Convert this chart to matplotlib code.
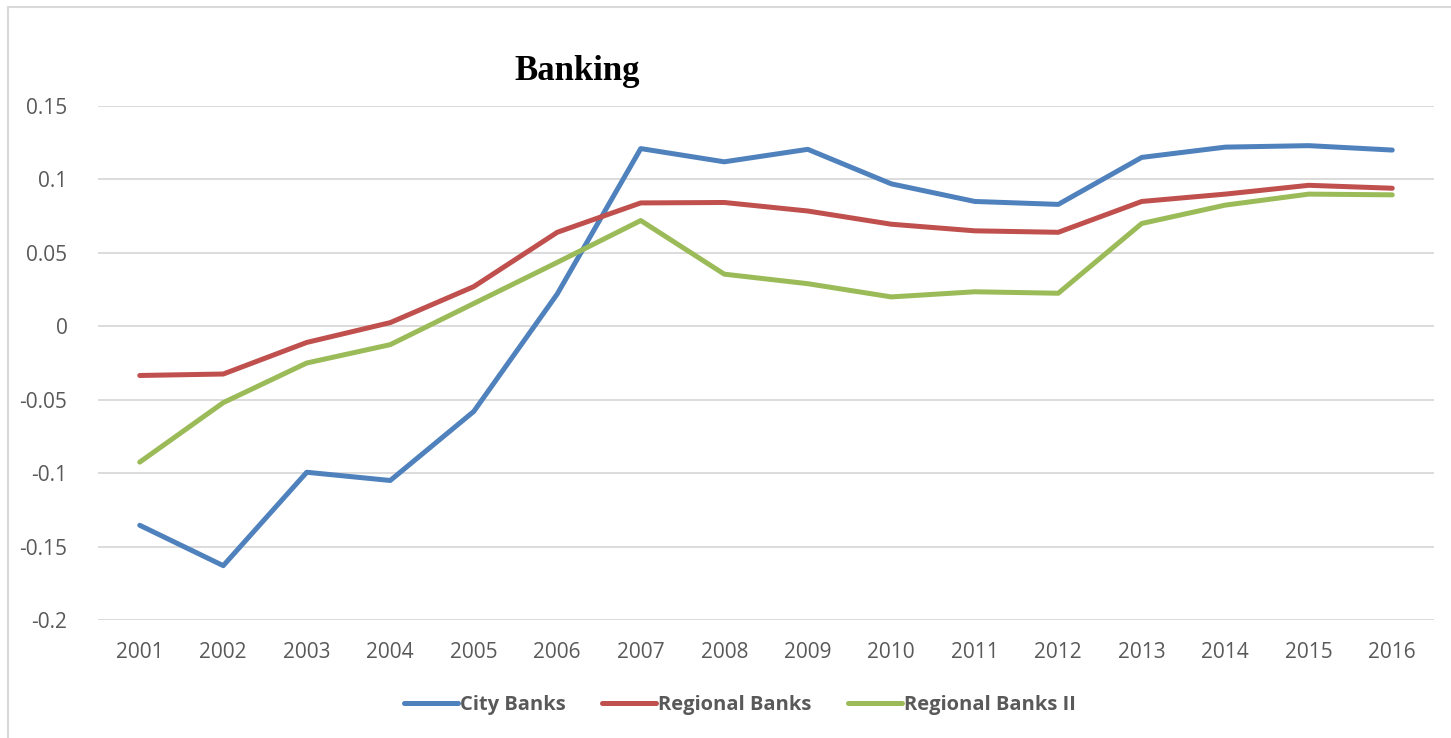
import matplotlib
matplotlib.use("Agg")
import matplotlib.pyplot as plt
from matplotlib.patches import Rectangle
from matplotlib.lines import Line2D

years = ["2001", "2002", "2003", "2004", "2005", "2006", "2007", "2008",
         "2009", "2010", "2011", "2012", "2013", "2014", "2015", "2016"]
city_banks = [-0.1355, -0.163, -0.0994, -0.105, -0.058, 0.022, 0.121, 0.112,
              0.1205, 0.097, 0.085, 0.083, 0.115, 0.122, 0.123, 0.120]
regional_banks = [-0.0335, -0.0325, -0.011, 0.0025, 0.027, 0.064, 0.084, 0.0843,
                  0.0785, 0.0695, 0.065, 0.064, 0.085, 0.090, 0.096, 0.094]
regional_banks_2 = [-0.0925, -0.052, -0.025, -0.0125, 0.0155, 0.0435, 0.072, 0.0355,
                    0.029, 0.020, 0.0235, 0.0225, 0.070, 0.0825, 0.090, 0.0895]
yticks = [-0.2, -0.15, -0.1, -0.05, 0, 0.05, 0.1, 0.15]
ytick_labels = ["-0.2", "-0.15", "-0.1", "-0.05", "0", "0.05", "0.1", "0.15"]

W, H = 1451, 738
fig = plt.figure(figsize=(W / 100, H / 100), dpi=100)
fig.patch.set_facecolor("white")

# outer chart border
fig.add_artist(Rectangle((8 / W, 0 - 0.05), 1.2, 1 - 7 / H + 0.05, transform=fig.transFigure,
                         fill=False, edgecolor="#d9d9d9", linewidth=1.5))

ax = fig.add_axes([98 / W, 1 - 620 / H, (1434 - 98) / W, (620 - 106) / H])
x = list(range(len(years)))
text_color = "#595959"
font = "Open Sans"

ax.plot(x, city_banks, color="#4F81BD", lw=3.6, solid_capstyle="round", solid_joinstyle="round", zorder=3)
ax.plot(x, regional_banks, color="#C0504D", lw=3.6, solid_capstyle="round", solid_joinstyle="round", zorder=3)
ax.plot(x, regional_banks_2, color="#9BBB59", lw=3.6, solid_capstyle="round", solid_joinstyle="round", zorder=3)

ax.set_xlim(-0.5, len(years) - 0.5)
ax.set_ylim(-0.2, 0.15)
ax.set_yticks(yticks)
ax.set_yticklabels(ytick_labels, fontsize=15, color=text_color, family=font)
ax.set_xticks(x)
ax.set_xticklabels(years, fontsize=15, color=text_color, family=font)
ax.tick_params(axis="both", length=0)
ax.tick_params(axis="y", pad=22)
ax.tick_params(axis="x", pad=16)
ax.grid(axis="y", color="#d9d9d9", lw=1.3)
ax.set_axisbelow(True)
for s in ax.spines.values():
    s.set_visible(False)

fig.text(577 / W, 1 - 71 / H, "Banking", ha="center", va="center",
         fontsize=25, fontweight="bold", family="Liberation Serif", color="black")

handles = [Line2D([], [], color="#4F81BD", lw=3.6, solid_capstyle="round"),
           Line2D([], [], color="#C0504D", lw=3.6, solid_capstyle="round"),
           Line2D([], [], color="#9BBB59", lw=3.6, solid_capstyle="round")]
leg = fig.legend(handles, ["City Banks", "Regional Banks", "Regional Banks II"],
                 loc="center", bbox_to_anchor=(740 / W, 1 - 705 / H), ncol=3, frameon=False,
                 handlelength=2.7, handletextpad=0.1, columnspacing=1.8,
                 prop={"family": font, "weight": "bold", "size": 14.5})
for t in leg.get_texts():
    t.set_color(text_color)

fig.savefig("out.png", dpi=100, facecolor="white")
